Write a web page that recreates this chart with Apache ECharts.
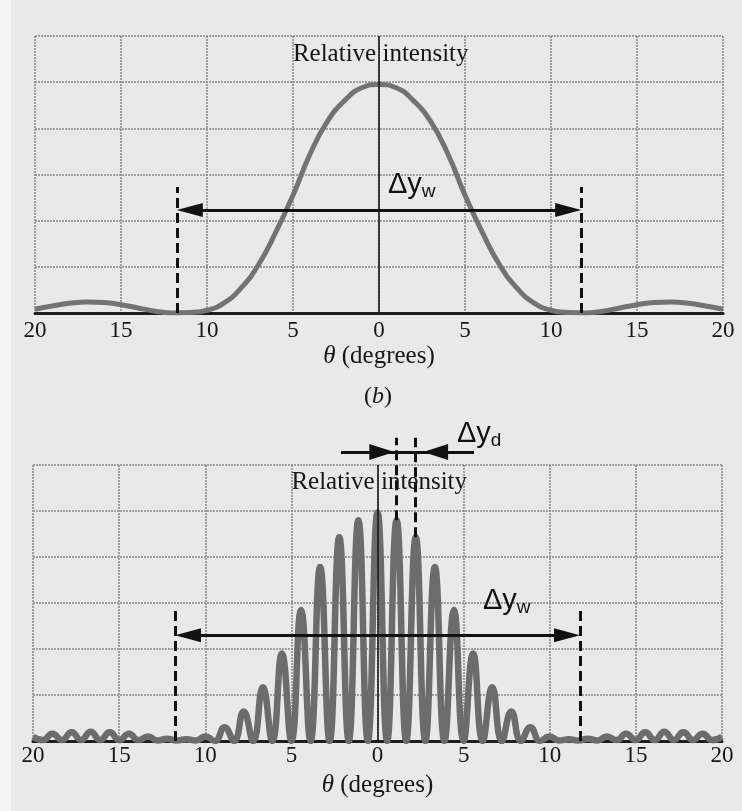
<!DOCTYPE html>
<html>
<head>
<meta charset="utf-8">
<script src="https://cdn.jsdelivr.net/npm/echarts@6/dist/echarts.min.js"></script>
<style>
html, body { margin: 0; padding: 0; background: #e9e9e9; }
#main { width: 742px; height: 811px; }
</style>
</head>
<body>
<div id="main"></div>
<script>
// top panel: single slit envelope, theta in degrees
var thetaTop = [-20, -19, -18, -17, -16, -15, -14, -13, -12, -11, -10, -9, -8, -7, -6, -5, -4, -3, -2, -1,
    0, 1, 2, 3, 4, 5, 6, 7, 8, 9, 10, 11, 12, 13, 14, 15, 16, 17, 18, 19, 20];
var intensityTop = [0.08, 0.15, 0.21, 0.24, 0.23, 0.18, 0.11, 0.04, 0.0, 0.01, 0.06, 0.22, 0.55, 1.05, 1.75, 2.55, 3.45, 4.15, 4.6, 4.88,
    4.95, 4.88, 4.6, 4.15, 3.45, 2.55, 1.75, 1.05, 0.55, 0.22, 0.06, 0.01, 0.0, 0.04, 0.11, 0.18, 0.23, 0.24, 0.21, 0.15, 0.08];

// bottom panel: double slit fringes (peaks and troughs)
var thetaBottom = [-20, -19.43, -18.87, -18.32, -17.76, -17.21, -16.65, -16.1, -15.54, -14.99, -14.43, -13.88,
    -13.32, -12.77, -12.21, -11.66, -11.1, -10.55, -9.99, -9.44, -8.88, -8.33, -7.77, -7.22, -6.66, -6.11,
    -5.55, -5.0, -4.44, -3.89, -3.33, -2.78, -2.22, -1.67, -1.11, -0.56, 0,
    0.56, 1.11, 1.67, 2.22, 2.78, 3.33, 3.89, 4.44, 5.0, 5.55, 6.11, 6.66, 7.22, 7.77, 8.33, 8.88, 9.44,
    9.99, 10.55, 11.1, 11.66, 12.21, 12.77, 13.32, 13.88, 14.43, 14.99, 15.54, 16.1, 16.65, 17.21, 17.76,
    18.32, 18.87, 19.43, 20];
var intensityBottom = [0.09, 0.02, 0.16, 0.02, 0.19, 0.02, 0.2, 0.02, 0.19, 0.02, 0.16, 0.02,
    0.1, 0.01, 0.05, 0.01, 0.04, 0.01, 0.1, 0, 0.3, 0, 0.64, 0, 1.17, 0,
    1.9, 0, 2.85, 0, 3.78, 0, 4.43, 0, 4.8, 0, 4.97,
    0, 4.8, 0, 4.43, 0, 3.78, 0, 2.85, 0, 1.9, 0, 1.17, 0, 0.64, 0, 0.3, 0,
    0.1, 0.01, 0.04, 0.01, 0.05, 0.01, 0.1, 0.02, 0.16, 0.02, 0.19, 0.02, 0.2, 0.02, 0.19,
    0.02, 0.16, 0.02, 0.09];

// annotation positions (degrees / intensity units)
var widthEdgesTop = [-11.75, 11.75];
var widthEdgesBottom = [-11.75, 11.75];
var fringeMarks = [1.11, 2.22];

var serif = '"Liberation Serif", "Times New Roman", serif';
var sans = '"Liberation Sans", Arial, sans-serif';
var ink = '#161616';
var gridColor = '#878787';

function pairs(xs, ys) {
    var out = [];
    for (var i = 0; i < xs.length; i++) out.push([xs[i], ys[i]]);
    return out;
}

function xAxisFor(idx, labelMargin, nameGap) {
    return {
        gridIndex: idx, type: 'value', min: -20, max: 20, interval: 5,
        axisLine: { show: true, onZero: false, lineStyle: { color: '#1e1e1e', width: 3 } },
        axisTick: { show: false },
        axisLabel: {
            margin: labelMargin, fontFamily: serif, fontSize: 23, color: ink,
            formatter: function (v) { return String(Math.abs(v)); }
        },
        splitLine: { show: true, lineStyle: { color: gridColor, width: 1.5, type: [2, 1] } },
        name: '{t|θ} (degrees)', nameLocation: 'middle', nameGap: nameGap,
        nameTextStyle: {
            fontFamily: serif, fontSize: 25, color: ink,
            rich: { t: { fontFamily: serif, fontSize: 25, fontStyle: 'italic', color: ink } }
        }
    };
}

function yAxisFor(idx) {
    return {
        gridIndex: idx, type: 'value', min: 0, max: 6, interval: 1,
        axisLine: { show: false }, axisTick: { show: false }, axisLabel: { show: false },
        splitLine: { show: true, lineStyle: { color: gridColor, width: 1.5, type: [2, 1] } }
    };
}

var solidBlack = { color: '#111', width: 1.5, type: 'solid' };
var dashBlack = { color: '#111', width: 3, type: [10, 5] };
var arrowBlack = { color: '#111', width: 3, type: 'solid' };

function deltaLabel(sub) {
    return {
        show: true, position: 'inside',
        formatter: '{a|Δy}{b|' + sub + '}',
        rich: {
            a: { fontFamily: sans, fontSize: 29, color: '#111' },
            b: { fontFamily: sans, fontSize: 19, color: '#111', padding: [14, 0, 0, 0] }
        }
    };
}

var riLabel = { show: true, position: 'inside', formatter: 'Relative intensity', fontFamily: serif, fontSize: 25, color: ink };
var hiddenPoint = { silent: true, symbol: 'circle', symbolSize: 1, itemStyle: { color: 'rgba(0,0,0,0)' } };

var myChart = echarts.init(document.getElementById('main'));
myChart.setOption({
    backgroundColor: '#e9e9e9',
    animation: false,
    grid: [
        { left: 35, right: 19, top: 36, height: 277 },
        { left: 33, right: 20, top: 465, height: 276 },
        // overlay for the marks drawn above the lower panel (same x scale, y from 0 to 7)
        { left: 33, right: 20, top: 419, height: 322 }
    ],
    xAxis: [xAxisFor(0, 6, 31), xAxisFor(1, 3, 32),
        { gridIndex: 2, type: 'value', min: -20, max: 20, show: false }],
    yAxis: [yAxisFor(0), yAxisFor(1),
        { gridIndex: 2, type: 'value', min: 0, max: 7, show: false }],
    graphic: [
        { type: 'rect', shape: { x: 0, y: 0, width: 11, height: 811 }, style: { fill: '#f5f5f5' }, z: -1 },
        {
            type: 'text', x: 378, y: 397, z: 10,
            style: {
                text: '({i|b})', fill: ink, font: '24px ' + serif, align: 'center', verticalAlign: 'middle',
                rich: { i: { fontFamily: serif, fontSize: 24, fontStyle: 'italic', fill: ink } }
            }
        }
    ],
    series: [
        {
            type: 'line', xAxisIndex: 0, yAxisIndex: 0,
            data: pairs(thetaTop, intensityTop),
            smooth: true, symbol: 'none',
            lineStyle: { color: '#737373', width: 5 },
            z: 3,
            markLine: {
                silent: true, symbol: ['none', 'none'], label: { show: false },
                data: [
                    [{ coord: [0, 0], lineStyle: solidBlack }, { coord: [0, 6] }],
                    [{ coord: [widthEdgesTop[0], 0], lineStyle: dashBlack }, { coord: [widthEdgesTop[0], 2.73] }],
                    [{ coord: [widthEdgesTop[1], 0], lineStyle: dashBlack }, { coord: [widthEdgesTop[1], 2.73] }],
                    [{ coord: [widthEdgesTop[0] + 0.75, 2.23], symbol: 'triangle', symbolSize: [14, 26], lineStyle: arrowBlack },
                     { coord: [widthEdgesTop[1] - 0.75, 2.23], symbol: 'triangle', symbolSize: [14, 26] }]
                ]
            },
            markPoint: Object.assign({}, hiddenPoint, {
                data: [
                    { coord: [0.1, 5.59], label: riLabel },
                    { coord: [1.9, 2.77], label: deltaLabel('w') }
                ]
            })
        },
        {
            type: 'line', xAxisIndex: 1, yAxisIndex: 1,
            data: pairs(thetaBottom, intensityBottom),
            smooth: true, symbol: 'none',
            lineStyle: { color: '#6c6c6c', width: 6.5 },
            z: 3,
            markLine: {
                silent: true, symbol: ['none', 'none'], label: { show: false },
                data: [
                    [{ coord: [0, 0], lineStyle: solidBlack }, { coord: [0, 6] }],
                    [{ coord: [widthEdgesBottom[0], 0], lineStyle: dashBlack }, { coord: [widthEdgesBottom[0], 2.87] }],
                    [{ coord: [widthEdgesBottom[1], 0], lineStyle: dashBlack }, { coord: [widthEdgesBottom[1], 2.87] }],
                    [{ coord: [widthEdgesBottom[0] + 0.75, 2.3], symbol: 'triangle', symbolSize: [14, 26], lineStyle: arrowBlack },
                     { coord: [widthEdgesBottom[1] - 0.75, 2.3], symbol: 'triangle', symbolSize: [14, 26] }]
                ]
            },
            markPoint: Object.assign({}, hiddenPoint, {
                data: [
                    { coord: [0.1, 5.63], label: riLabel },
                    { coord: [7.5, 3.04], label: deltaLabel('w') }
                ]
            })
        },
        {
            // fringe spacing marks above the lower panel
            type: 'line', xAxisIndex: 2, yAxisIndex: 2,
            data: [[0, 0]], symbol: 'none', lineStyle: { opacity: 0 },
            z: 4,
            markLine: {
                silent: true, symbol: ['none', 'none'], label: { show: false },
                data: [
                    [{ coord: [fringeMarks[0], 4.8], lineStyle: dashBlack }, { coord: [fringeMarks[0], 6.59] }],
                    [{ coord: [fringeMarks[1], 4.43], lineStyle: dashBlack }, { coord: [fringeMarks[1], 6.59] }],
                    [{ coord: [-2.12, 6.28], lineStyle: arrowBlack }, { coord: [5.6, 6.28] }],
                    [{ coord: [-2.12, 6.28], lineStyle: arrowBlack }, { coord: [0.25, 6.28], symbol: 'triangle', symbolSize: [16, 25] }],
                    [{ coord: [5.6, 6.28], lineStyle: arrowBlack }, { coord: [3.37, 6.28], symbol: 'triangle', symbolSize: [16, 25] }]
                ]
            },
            markPoint: Object.assign({}, hiddenPoint, {
                data: [
                    { coord: [5.9, 6.67], label: deltaLabel('d') }
                ]
            })
        }
    ]
});
</script>
</body>
</html>
